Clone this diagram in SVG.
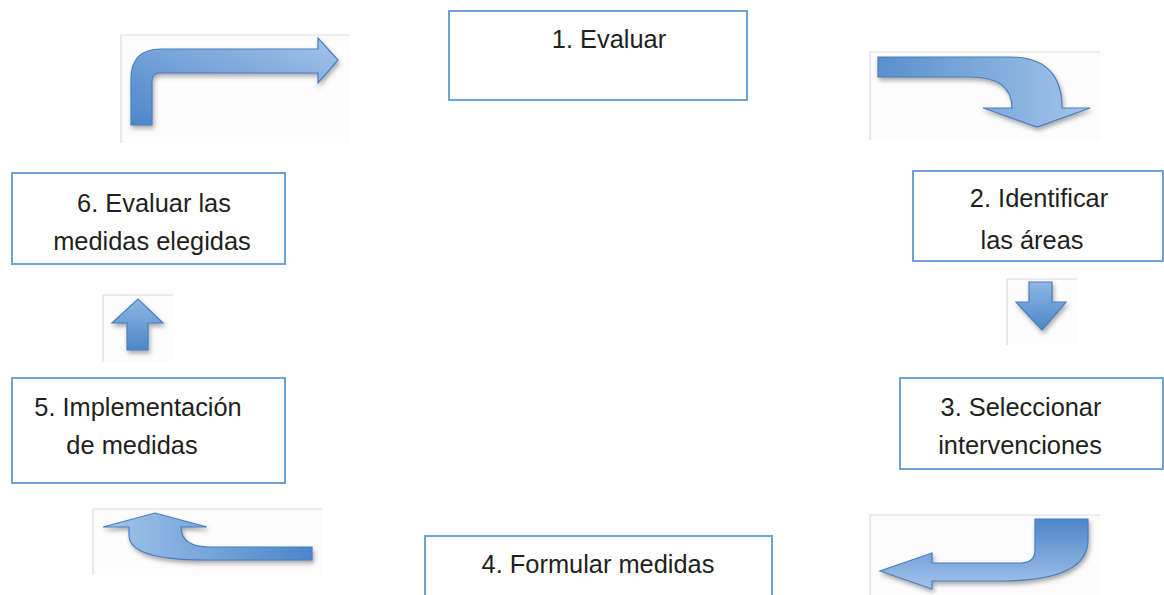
<svg xmlns="http://www.w3.org/2000/svg" width="1164" height="595" viewBox="0 0 1164 595">
<style>
.box{fill:#fff;stroke:#6fa3d8;stroke-width:2}
.t{font-family:"Liberation Sans",Arial,sans-serif;font-size:25.4px;fill:#231f20;text-anchor:middle}
.frame{fill:#fcfcfc;stroke:none}
.fl{stroke:#dcdcdc;stroke-width:1.2;fill:none}
.arr{stroke:#4a7fc0;stroke-width:1.2;filter:url(#sh)}
</style>
<defs>
<filter id="sh" x="-20%" y="-20%" width="140%" height="160%">
<feDropShadow dx="1.5" dy="3" stdDeviation="2" flood-color="#444" flood-opacity="0.45"/>
</filter>
<linearGradient id="gV" x1="0" y1="1" x2="0" y2="0"><stop offset="0" stop-color="#4c86c9"/><stop offset="1" stop-color="#8fb7e4"/></linearGradient>
<linearGradient id="gR" x1="0" y1="0" x2="1" y2="0"><stop offset="0" stop-color="#5a90cc"/><stop offset="1" stop-color="#a3c4ea"/></linearGradient>
<linearGradient id="gL" x1="1" y1="0" x2="0" y2="0"><stop offset="0" stop-color="#4c86c9"/><stop offset="1" stop-color="#a3c4ea"/></linearGradient>
<linearGradient id="gD" x1="0" y1="0" x2="0" y2="1"><stop offset="0" stop-color="#4c86c9"/><stop offset="1" stop-color="#a3c4ea"/></linearGradient>
<linearGradient id="g1" x1="0" y1="1" x2="1" y2="0"><stop offset="0" stop-color="#4c86c9"/><stop offset="1" stop-color="#a3c4ea"/></linearGradient>
</defs>

<g id="connectors">
  <g id="arrow-1-2">
    <rect class="frame" x="121" y="35" width="229" height="108"/>
    <path class="fl" d="M121,143 L121,35 L350,35"/>
    <path class="arr" fill="url(#g1)" d="M131,125 L131,79 Q131,49 161,49 L318,49 L318,38 L338,60 L318,83 L318,73 L160,73 Q152,73 152,81 L152,125 Z"/>
  </g>
  <g id="arrow-top-right">
    <rect class="frame" x="870" y="52" width="230" height="88"/>
    <path class="fl" d="M870,140 L870,52 L1100,52"/>
    <path class="arr" fill="url(#gR)" d="M878,57 L1010,57 Q1062,57 1062,108 L1090,108 L1037,127 L983,108 L1012,108 Q1012,77 970,77 L878,77 Z"/>
  </g>
  <g id="arrow-2-3">
    <rect class="frame" x="1007" y="279" width="70" height="66"/>
    <path class="fl" d="M1007,345 L1007,279 L1077,279"/>
    <path class="arr" fill="url(#gV)" d="M1029,282 L1052,282 L1052,302 L1066,302 L1042,330 L1016,302 L1029,302 Z"/>
  </g>
  <g id="arrow-3-4">
    <rect class="frame" x="870" y="515" width="230" height="80"/>
    <path class="fl" d="M870,595 L870,515 L1100,515"/>
    <path class="arr" fill="url(#gD)" d="M1035,519 L1088,519 L1088,540 Q1088,581 1000,581 L932,581 L932,589 L880,571 L932,553 L932,563 L1020,563 Q1035,563 1035,550 Z"/>
  </g>
  <g id="arrow-4-5">
    <rect class="frame" x="93" y="509" width="229" height="66"/>
    <path class="fl" d="M93,575 L93,509 L322,509"/>
    <path class="arr" fill="url(#gL)" d="M312,547 L312,560 L205,560 Q129,560 129,535 L129,527 L103,527 L155,513 L207,527 L181,527 Q181,547 210,547 Z"/>
  </g>
  <g id="arrow-5-6">
    <rect class="frame" x="103" y="295" width="70" height="67"/>
    <path class="fl" d="M103,362 L103,295 L173,295"/>
    <path class="arr" fill="url(#gV)" d="M127,350 L127,323 L112,323 L138,299 L163,323 L148,323 L148,350 Z"/>
  </g>
</g>

<g id="node1">
  <rect class="box" x="449" y="11" width="298" height="89"/>
  <text class="t" x="609" y="48">1. Evaluar</text>
</g>
<g id="node2">
  <rect class="box" x="913" y="171" width="250" height="90"/>
  <text class="t" x="1039" y="207">2. Identificar</text>
  <text class="t" x="1032" y="249">las áreas</text>
</g>
<g id="node3">
  <rect class="box" x="900" y="378" width="263" height="91"/>
  <text class="t" x="1021" y="416">3. Seleccionar</text>
  <text class="t" x="1020" y="454">intervenciones</text>
</g>
<g id="node4">
  <rect class="box" x="425" y="536" width="347" height="62"/>
  <text class="t" x="598" y="573">4. Formular medidas</text>
</g>
<g id="node5">
  <rect class="box" x="12" y="378" width="273" height="105"/>
  <text class="t" x="138" y="416">5. Implementación</text>
  <text class="t" x="132" y="454">de medidas</text>
</g>
<g id="node6">
  <rect class="box" x="12" y="173" width="273" height="91"/>
  <text class="t" x="154" y="212">6. Evaluar las</text>
  <text class="t" x="152" y="250">medidas elegidas</text>
</g>
</svg>
